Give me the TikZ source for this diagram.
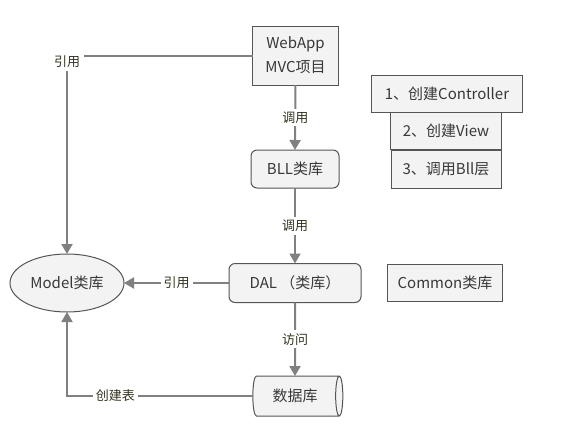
\documentclass[tikz,border=0pt]{standalone}
\usepackage{fontspec}
\setmainfont{Noto Sans CJK SC}
\usetikzlibrary{arrows.meta,shapes.geometric}
\definecolor{boxfill}{HTML}{F3F3F3}
\definecolor{boxline}{HTML}{555555}
\definecolor{conn}{HTML}{808080}
\definecolor{txt}{HTML}{383838}
\definecolor{lbltxt}{HTML}{33331F}
\tikzset{
  basebox/.style={draw=boxline, fill=boxfill, line width=1pt, text=txt, align=center, inner sep=2pt, outer sep=0pt,
    font=\fontsize{15}{24}\selectfont},
  sqbox/.style={basebox},
  rbox/.style={basebox, rounded corners=6pt},
  ellbox/.style={basebox, ellipse},
  cylbox/.style={basebox, cylinder, shape border rotate=0, aspect=0.4},
  conline/.style={draw=conn, line width=2pt},
  conarrow/.style={conline, -{Triangle[length=10pt,width=11pt]}},
  lbl/.style={fill=white, text=lbltxt, inner sep=3pt, font=\fontsize{13}{15}\selectfont}
}
\begin{document}
\begin{tikzpicture}[x=1pt,y=-1pt]
\useasboundingbox (0,0) rectangle (580,429);
% main nodes
\node[sqbox, minimum width=86pt, minimum height=59pt] (web) at (295.5,55.5) {WebApp\\MVC项目};
\node[rbox, minimum width=88pt, minimum height=38pt] (bll) at (295,169) {BLL类库};
\node[rbox, minimum width=132pt, minimum height=39pt] (dal) at (295,283) {DAL （类库）};
\node[cylbox, minimum width=40pt, minimum height=90pt] (db) at (295,396) {数据库};
\node[ellbox, minimum width=114pt, minimum height=58pt] (model) at (67,283) {Model类库};
\node[sqbox, minimum width=115pt, minimum height=37pt] (common) at (445,283) {Common类库};
% right-hand step boxes
\node[sqbox, minimum width=151pt, minimum height=37pt] (s1) at (447,94) {1、创建Controller};
\node[sqbox, minimum width=111pt, minimum height=37pt] (s2) at (446,131) {2、创建View};
\node[sqbox, minimum width=110pt, minimum height=38pt] (s3) at (446,169) {3、调用Bll层};
% connectors
\draw[conarrow] (web.south) -- node[lbl] {调用} (bll.north);
\draw[conarrow] (bll.south) -- node[lbl] {调用} (dal.north);
\draw[conarrow] (dal.south) -- node[lbl] {访问} (db.north);
\draw[conarrow] (dal.west) -- node[lbl] {引用} (model.east);
\draw[conarrow] (web.west) -| node[lbl, pos=0.5, yshift=-6pt, inner sep=4pt] {引用} (model.north);
\draw[conarrow] (db.west) -| node[lbl, pos=0.37] {创建表} (model.south);
\end{tikzpicture}
\end{document}
